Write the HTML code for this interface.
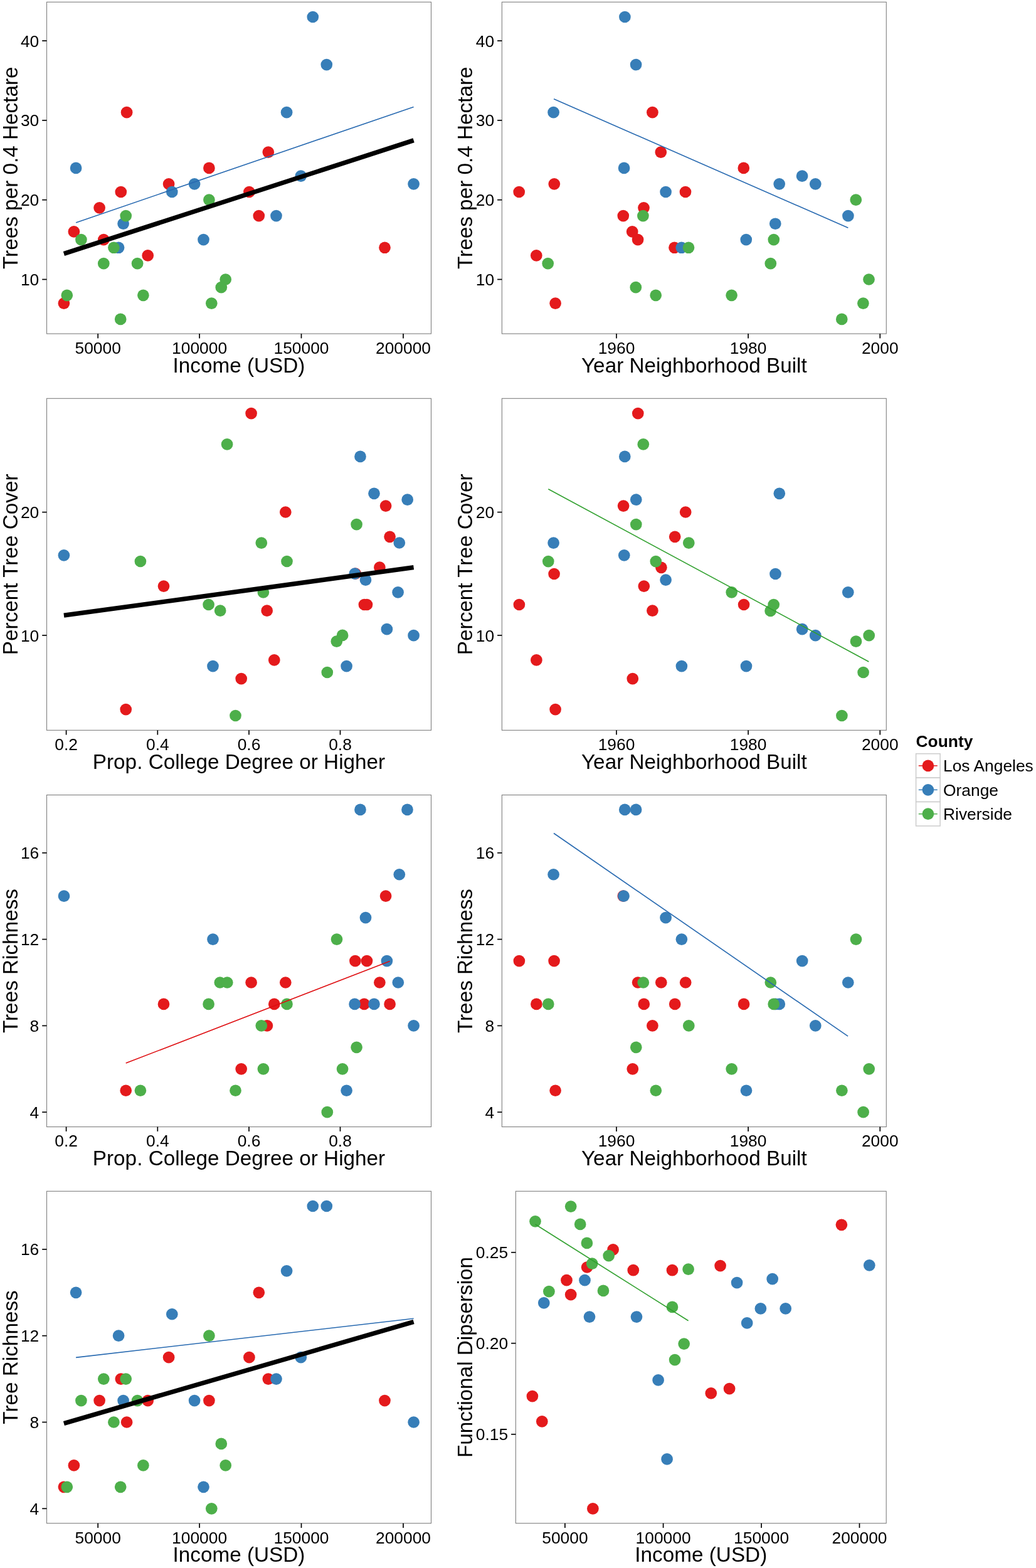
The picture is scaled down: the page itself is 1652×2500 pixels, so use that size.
<!DOCTYPE html>
<html><head><meta charset="utf-8"><title>Figure</title>
<style>
html,body{margin:0;padding:0;background:#fff;overflow:hidden;}
svg{display:block;}
text{font-family:"Liberation Sans",Arial,Helvetica,sans-serif;fill:#000;}
.tk{font-size:26.4px;}
.ti{font-size:33.3px;}
</style></head><body>
<svg width="1652" height="2500" viewBox="0 0 1652 2500">
<rect x="0" y="0" width="1652" height="2500" fill="#fff"/>
<g id="p1">
<clipPath id="c1"><rect x="74.5" y="3.3" width="613" height="528.8"/></clipPath>
<g clip-path="url(#c1)">
<circle cx="202.1" cy="179.19" r="9.35" fill="#E41A1C"/>
<circle cx="333.4" cy="267.96" r="9.35" fill="#E41A1C"/>
<circle cx="269.1" cy="293.32" r="9.35" fill="#E41A1C"/>
<circle cx="192.8" cy="306" r="9.35" fill="#E41A1C"/>
<circle cx="397.4" cy="306" r="9.35" fill="#E41A1C"/>
<circle cx="158.6" cy="331.37" r="9.35" fill="#E41A1C"/>
<circle cx="412.8" cy="344.05" r="9.35" fill="#E41A1C"/>
<circle cx="117.9" cy="369.41" r="9.35" fill="#E41A1C"/>
<circle cx="165.3" cy="382.09" r="9.35" fill="#E41A1C"/>
<circle cx="235.7" cy="407.45" r="9.35" fill="#E41A1C"/>
<circle cx="613.5" cy="394.77" r="9.35" fill="#E41A1C"/>
<circle cx="101.9" cy="483.55" r="9.35" fill="#E41A1C"/>
<circle cx="427.8" cy="242.59" r="9.35" fill="#E41A1C"/>
<circle cx="498.8" cy="27.01" r="9.35" fill="#377EB8"/>
<circle cx="520.8" cy="103.09" r="9.35" fill="#377EB8"/>
<circle cx="457.1" cy="179.19" r="9.35" fill="#377EB8"/>
<circle cx="121.1" cy="267.96" r="9.35" fill="#377EB8"/>
<circle cx="310.1" cy="293.32" r="9.35" fill="#377EB8"/>
<circle cx="659.6" cy="293.32" r="9.35" fill="#377EB8"/>
<circle cx="479.8" cy="280.64" r="9.35" fill="#377EB8"/>
<circle cx="274.3" cy="306" r="9.35" fill="#377EB8"/>
<circle cx="440.5" cy="344.05" r="9.35" fill="#377EB8"/>
<circle cx="196.6" cy="356.73" r="9.35" fill="#377EB8"/>
<circle cx="324.5" cy="382.09" r="9.35" fill="#377EB8"/>
<circle cx="189.1" cy="394.77" r="9.35" fill="#377EB8"/>
<circle cx="333.4" cy="318.68" r="9.35" fill="#4DAF4A"/>
<circle cx="200.7" cy="344.05" r="9.35" fill="#4DAF4A"/>
<circle cx="129.4" cy="382.09" r="9.35" fill="#4DAF4A"/>
<circle cx="181.4" cy="394.77" r="9.35" fill="#4DAF4A"/>
<circle cx="165.3" cy="420.14" r="9.35" fill="#4DAF4A"/>
<circle cx="219.1" cy="420.14" r="9.35" fill="#4DAF4A"/>
<circle cx="359.7" cy="445.5" r="9.35" fill="#4DAF4A"/>
<circle cx="352.8" cy="458.18" r="9.35" fill="#4DAF4A"/>
<circle cx="106.8" cy="470.86" r="9.35" fill="#4DAF4A"/>
<circle cx="228.4" cy="470.86" r="9.35" fill="#4DAF4A"/>
<circle cx="337.3" cy="483.55" r="9.35" fill="#4DAF4A"/>
<circle cx="192.2" cy="508.91" r="9.35" fill="#4DAF4A"/>
<line x1="121.1" y1="355" x2="659.6" y2="170.4" stroke="#2769B0" stroke-width="1.6" stroke-linecap="butt"/>
<line x1="101.9" y1="404.5" x2="659.6" y2="223.8" stroke="#000000" stroke-width="7.3" stroke-linecap="butt"/>
</g>
<rect x="74.5" y="3.3" width="613" height="528.8" fill="none" stroke="#7F7F7F" stroke-width="1.1"/>
<line x1="67.2" y1="445.5" x2="74.5" y2="445.5" stroke="#000" stroke-width="1.7"/>
<text class="tk" x="62.3" y="455" text-anchor="end">10</text>
<line x1="67.2" y1="318.68" x2="74.5" y2="318.68" stroke="#000" stroke-width="1.7"/>
<text class="tk" x="62.3" y="328.18" text-anchor="end">20</text>
<line x1="67.2" y1="191.87" x2="74.5" y2="191.87" stroke="#000" stroke-width="1.7"/>
<text class="tk" x="62.3" y="201.37" text-anchor="end">30</text>
<line x1="67.2" y1="65.05" x2="74.5" y2="65.05" stroke="#000" stroke-width="1.7"/>
<text class="tk" x="62.3" y="74.55" text-anchor="end">40</text>
<line x1="156.2" y1="532.1" x2="156.2" y2="539.4" stroke="#000" stroke-width="1.7"/>
<text class="tk" x="156.2" y="563.9" text-anchor="middle">50000</text>
<line x1="318.1" y1="532.1" x2="318.1" y2="539.4" stroke="#000" stroke-width="1.7"/>
<text class="tk" x="318.1" y="563.9" text-anchor="middle">100000</text>
<line x1="480.5" y1="532.1" x2="480.5" y2="539.4" stroke="#000" stroke-width="1.7"/>
<text class="tk" x="480.5" y="563.9" text-anchor="middle">150000</text>
<line x1="643" y1="532.1" x2="643" y2="539.4" stroke="#000" stroke-width="1.7"/>
<text class="tk" x="643" y="563.9" text-anchor="middle">200000</text>
<text class="ti" x="381" y="593.5" text-anchor="middle">Income (USD)</text>
<text class="ti" x="0" y="0" text-anchor="middle" transform="translate(27.6 267.7) rotate(-90)">Trees per 0.4 Hectare</text>
</g>
<g id="p2">
<clipPath id="c2"><rect x="800.4" y="3.3" width="612.9" height="528.8"/></clipPath>
<g clip-path="url(#c2)">
<circle cx="1040.4" cy="179.19" r="9.35" fill="#E41A1C"/>
<circle cx="1053.8" cy="242.59" r="9.35" fill="#E41A1C"/>
<circle cx="883.8" cy="293.32" r="9.35" fill="#E41A1C"/>
<circle cx="827.7" cy="306" r="9.35" fill="#E41A1C"/>
<circle cx="1093" cy="306" r="9.35" fill="#E41A1C"/>
<circle cx="1026.5" cy="331.37" r="9.35" fill="#E41A1C"/>
<circle cx="993.8" cy="344.05" r="9.35" fill="#E41A1C"/>
<circle cx="1008.2" cy="369.41" r="9.35" fill="#E41A1C"/>
<circle cx="1017.1" cy="382.09" r="9.35" fill="#E41A1C"/>
<circle cx="1075.5" cy="394.77" r="9.35" fill="#E41A1C"/>
<circle cx="855.3" cy="407.45" r="9.35" fill="#E41A1C"/>
<circle cx="885.6" cy="483.55" r="9.35" fill="#E41A1C"/>
<circle cx="1185.8" cy="267.96" r="9.35" fill="#E41A1C"/>
<circle cx="996.4" cy="27.01" r="9.35" fill="#377EB8"/>
<circle cx="1014.1" cy="103.09" r="9.35" fill="#377EB8"/>
<circle cx="882.6" cy="179.19" r="9.35" fill="#377EB8"/>
<circle cx="995.1" cy="267.96" r="9.35" fill="#377EB8"/>
<circle cx="1061.6" cy="306" r="9.35" fill="#377EB8"/>
<circle cx="1086.7" cy="394.77" r="9.35" fill="#377EB8"/>
<circle cx="1279.1" cy="280.64" r="9.35" fill="#377EB8"/>
<circle cx="1242.7" cy="293.32" r="9.35" fill="#377EB8"/>
<circle cx="1300.3" cy="293.32" r="9.35" fill="#377EB8"/>
<circle cx="1352.4" cy="344.05" r="9.35" fill="#377EB8"/>
<circle cx="1236.3" cy="356.73" r="9.35" fill="#377EB8"/>
<circle cx="1189.8" cy="382.09" r="9.35" fill="#377EB8"/>
<circle cx="1025.4" cy="344.05" r="9.35" fill="#4DAF4A"/>
<circle cx="1098" cy="394.77" r="9.35" fill="#4DAF4A"/>
<circle cx="873.7" cy="420.14" r="9.35" fill="#4DAF4A"/>
<circle cx="1013.8" cy="458.18" r="9.35" fill="#4DAF4A"/>
<circle cx="1045.7" cy="470.86" r="9.35" fill="#4DAF4A"/>
<circle cx="1364.8" cy="318.68" r="9.35" fill="#4DAF4A"/>
<circle cx="1233.8" cy="382.09" r="9.35" fill="#4DAF4A"/>
<circle cx="1228.8" cy="420.14" r="9.35" fill="#4DAF4A"/>
<circle cx="1385.5" cy="445.5" r="9.35" fill="#4DAF4A"/>
<circle cx="1166.6" cy="470.86" r="9.35" fill="#4DAF4A"/>
<circle cx="1376.4" cy="483.55" r="9.35" fill="#4DAF4A"/>
<circle cx="1342.3" cy="508.91" r="9.35" fill="#4DAF4A"/>
<line x1="883.1" y1="157.8" x2="1352.4" y2="363.3" stroke="#2769B0" stroke-width="1.6" stroke-linecap="butt"/>
</g>
<rect x="800.4" y="3.3" width="612.9" height="528.8" fill="none" stroke="#7F7F7F" stroke-width="1.1"/>
<line x1="793.1" y1="445.5" x2="800.4" y2="445.5" stroke="#000" stroke-width="1.7"/>
<text class="tk" x="788.2" y="455" text-anchor="end">10</text>
<line x1="793.1" y1="318.68" x2="800.4" y2="318.68" stroke="#000" stroke-width="1.7"/>
<text class="tk" x="788.2" y="328.18" text-anchor="end">20</text>
<line x1="793.1" y1="191.87" x2="800.4" y2="191.87" stroke="#000" stroke-width="1.7"/>
<text class="tk" x="788.2" y="201.37" text-anchor="end">30</text>
<line x1="793.1" y1="65.05" x2="800.4" y2="65.05" stroke="#000" stroke-width="1.7"/>
<text class="tk" x="788.2" y="74.55" text-anchor="end">40</text>
<line x1="983" y1="532.1" x2="983" y2="539.4" stroke="#000" stroke-width="1.7"/>
<text class="tk" x="983" y="563.9" text-anchor="middle">1960</text>
<line x1="1193.1" y1="532.1" x2="1193.1" y2="539.4" stroke="#000" stroke-width="1.7"/>
<text class="tk" x="1193.1" y="563.9" text-anchor="middle">1980</text>
<line x1="1403.3" y1="532.1" x2="1403.3" y2="539.4" stroke="#000" stroke-width="1.7"/>
<text class="tk" x="1403.3" y="563.9" text-anchor="middle">2000</text>
<text class="ti" x="1106.85" y="593.5" text-anchor="middle">Year Neighborhood Built</text>
<text class="ti" x="0" y="0" text-anchor="middle" transform="translate(753.2 267.7) rotate(-90)">Trees per 0.4 Hectare</text>
</g>
<g id="p3">
<clipPath id="c3"><rect x="74.5" y="635.3" width="613" height="529"/></clipPath>
<g clip-path="url(#c3)">
<circle cx="400.6" cy="659.1" r="9.35" fill="#E41A1C"/>
<circle cx="615.1" cy="806.6" r="9.35" fill="#E41A1C"/>
<circle cx="455.3" cy="816.5" r="9.35" fill="#E41A1C"/>
<circle cx="621.6" cy="855.8" r="9.35" fill="#E41A1C"/>
<circle cx="605.4" cy="904.7" r="9.35" fill="#E41A1C"/>
<circle cx="566.8" cy="914.6" r="9.35" fill="#E41A1C"/>
<circle cx="580.9" cy="964" r="9.35" fill="#E41A1C"/>
<circle cx="585" cy="964" r="9.35" fill="#E41A1C"/>
<circle cx="425.7" cy="973.7" r="9.35" fill="#E41A1C"/>
<circle cx="437.3" cy="1052.4" r="9.35" fill="#E41A1C"/>
<circle cx="384.7" cy="1082.1" r="9.35" fill="#E41A1C"/>
<circle cx="261" cy="934.6" r="9.35" fill="#E41A1C"/>
<circle cx="200.7" cy="1131.1" r="9.35" fill="#E41A1C"/>
<circle cx="574.5" cy="727.9" r="9.35" fill="#377EB8"/>
<circle cx="596.5" cy="786.8" r="9.35" fill="#377EB8"/>
<circle cx="649.7" cy="796.7" r="9.35" fill="#377EB8"/>
<circle cx="636.8" cy="865.5" r="9.35" fill="#377EB8"/>
<circle cx="101.9" cy="885.3" r="9.35" fill="#377EB8"/>
<circle cx="565.8" cy="914.6" r="9.35" fill="#377EB8"/>
<circle cx="583" cy="924.7" r="9.35" fill="#377EB8"/>
<circle cx="634.6" cy="944.3" r="9.35" fill="#377EB8"/>
<circle cx="616.9" cy="1003.2" r="9.35" fill="#377EB8"/>
<circle cx="659.6" cy="1013.1" r="9.35" fill="#377EB8"/>
<circle cx="552.6" cy="1062.1" r="9.35" fill="#377EB8"/>
<circle cx="339.5" cy="1062.1" r="9.35" fill="#377EB8"/>
<circle cx="362.1" cy="708.3" r="9.35" fill="#4DAF4A"/>
<circle cx="568.6" cy="836.1" r="9.35" fill="#4DAF4A"/>
<circle cx="416.8" cy="865.7" r="9.35" fill="#4DAF4A"/>
<circle cx="223.9" cy="895" r="9.35" fill="#4DAF4A"/>
<circle cx="457.5" cy="895" r="9.35" fill="#4DAF4A"/>
<circle cx="419.9" cy="944.5" r="9.35" fill="#4DAF4A"/>
<circle cx="332.6" cy="964" r="9.35" fill="#4DAF4A"/>
<circle cx="351.2" cy="973.7" r="9.35" fill="#4DAF4A"/>
<circle cx="546.1" cy="1012.9" r="9.35" fill="#4DAF4A"/>
<circle cx="536.8" cy="1022.7" r="9.35" fill="#4DAF4A"/>
<circle cx="521.8" cy="1072" r="9.35" fill="#4DAF4A"/>
<circle cx="375.5" cy="1141" r="9.35" fill="#4DAF4A"/>
<line x1="101.9" y1="981.2" x2="659.6" y2="904.7" stroke="#000000" stroke-width="7.3" stroke-linecap="butt"/>
</g>
<rect x="74.5" y="635.3" width="613" height="529" fill="none" stroke="#7F7F7F" stroke-width="1.1"/>
<line x1="67.2" y1="1013" x2="74.5" y2="1013" stroke="#000" stroke-width="1.7"/>
<text class="tk" x="62.3" y="1022.5" text-anchor="end">10</text>
<line x1="67.2" y1="816.6" x2="74.5" y2="816.6" stroke="#000" stroke-width="1.7"/>
<text class="tk" x="62.3" y="826.1" text-anchor="end">20</text>
<line x1="105.6" y1="1164.3" x2="105.6" y2="1171.6" stroke="#000" stroke-width="1.7"/>
<text class="tk" x="105.6" y="1196.1" text-anchor="middle">0.2</text>
<line x1="251.3" y1="1164.3" x2="251.3" y2="1171.6" stroke="#000" stroke-width="1.7"/>
<text class="tk" x="251.3" y="1196.1" text-anchor="middle">0.4</text>
<line x1="397" y1="1164.3" x2="397" y2="1171.6" stroke="#000" stroke-width="1.7"/>
<text class="tk" x="397" y="1196.1" text-anchor="middle">0.6</text>
<line x1="542.5" y1="1164.3" x2="542.5" y2="1171.6" stroke="#000" stroke-width="1.7"/>
<text class="tk" x="542.5" y="1196.1" text-anchor="middle">0.8</text>
<text class="ti" x="381" y="1225.7" text-anchor="middle">Prop. College Degree or Higher</text>
<text class="ti" x="0" y="0" text-anchor="middle" transform="translate(27.6 899.8) rotate(-90)">Percent Tree Cover</text>
</g>
<g id="p4">
<clipPath id="c4"><rect x="800.4" y="635.3" width="612.9" height="529"/></clipPath>
<g clip-path="url(#c4)">
<circle cx="1017.3" cy="659.1" r="9.35" fill="#E41A1C"/>
<circle cx="994.1" cy="806.6" r="9.35" fill="#E41A1C"/>
<circle cx="1093.2" cy="816.5" r="9.35" fill="#E41A1C"/>
<circle cx="1076.2" cy="855.8" r="9.35" fill="#E41A1C"/>
<circle cx="1054.4" cy="904.8" r="9.35" fill="#E41A1C"/>
<circle cx="883.6" cy="915" r="9.35" fill="#E41A1C"/>
<circle cx="1026.8" cy="934.6" r="9.35" fill="#E41A1C"/>
<circle cx="827.9" cy="964" r="9.35" fill="#E41A1C"/>
<circle cx="1040.4" cy="973.7" r="9.35" fill="#E41A1C"/>
<circle cx="855.4" cy="1052.4" r="9.35" fill="#E41A1C"/>
<circle cx="1008.8" cy="1082.1" r="9.35" fill="#E41A1C"/>
<circle cx="885.6" cy="1131.1" r="9.35" fill="#E41A1C"/>
<circle cx="1186.1" cy="964" r="9.35" fill="#E41A1C"/>
<circle cx="996.3" cy="727.9" r="9.35" fill="#377EB8"/>
<circle cx="1014.3" cy="796.7" r="9.35" fill="#377EB8"/>
<circle cx="882.6" cy="865.7" r="9.35" fill="#377EB8"/>
<circle cx="995.3" cy="885.3" r="9.35" fill="#377EB8"/>
<circle cx="1061.6" cy="924.7" r="9.35" fill="#377EB8"/>
<circle cx="1086.9" cy="1062.1" r="9.35" fill="#377EB8"/>
<circle cx="1242.8" cy="786.8" r="9.35" fill="#377EB8"/>
<circle cx="1236.5" cy="915" r="9.35" fill="#377EB8"/>
<circle cx="1352.3" cy="944.3" r="9.35" fill="#377EB8"/>
<circle cx="1279.2" cy="1003.2" r="9.35" fill="#377EB8"/>
<circle cx="1300.3" cy="1013.1" r="9.35" fill="#377EB8"/>
<circle cx="1190" cy="1062.1" r="9.35" fill="#377EB8"/>
<circle cx="1025.8" cy="708.3" r="9.35" fill="#4DAF4A"/>
<circle cx="1014.3" cy="836.1" r="9.35" fill="#4DAF4A"/>
<circle cx="1098.3" cy="865.7" r="9.35" fill="#4DAF4A"/>
<circle cx="874.3" cy="895.1" r="9.35" fill="#4DAF4A"/>
<circle cx="1045.8" cy="895.1" r="9.35" fill="#4DAF4A"/>
<circle cx="1166.7" cy="944.3" r="9.35" fill="#4DAF4A"/>
<circle cx="1233.7" cy="964" r="9.35" fill="#4DAF4A"/>
<circle cx="1228.6" cy="973.9" r="9.35" fill="#4DAF4A"/>
<circle cx="1385.7" cy="1013.1" r="9.35" fill="#4DAF4A"/>
<circle cx="1365" cy="1022.7" r="9.35" fill="#4DAF4A"/>
<circle cx="1376.6" cy="1072" r="9.35" fill="#4DAF4A"/>
<circle cx="1342.4" cy="1141" r="9.35" fill="#4DAF4A"/>
<line x1="874.3" y1="779.7" x2="1385.3" y2="1055" stroke="#30A02E" stroke-width="1.6" stroke-linecap="butt"/>
</g>
<rect x="800.4" y="635.3" width="612.9" height="529" fill="none" stroke="#7F7F7F" stroke-width="1.1"/>
<line x1="793.1" y1="1013" x2="800.4" y2="1013" stroke="#000" stroke-width="1.7"/>
<text class="tk" x="788.2" y="1022.5" text-anchor="end">10</text>
<line x1="793.1" y1="816.6" x2="800.4" y2="816.6" stroke="#000" stroke-width="1.7"/>
<text class="tk" x="788.2" y="826.1" text-anchor="end">20</text>
<line x1="983" y1="1164.3" x2="983" y2="1171.6" stroke="#000" stroke-width="1.7"/>
<text class="tk" x="983" y="1196.1" text-anchor="middle">1960</text>
<line x1="1193.1" y1="1164.3" x2="1193.1" y2="1171.6" stroke="#000" stroke-width="1.7"/>
<text class="tk" x="1193.1" y="1196.1" text-anchor="middle">1980</text>
<line x1="1403.3" y1="1164.3" x2="1403.3" y2="1171.6" stroke="#000" stroke-width="1.7"/>
<text class="tk" x="1403.3" y="1196.1" text-anchor="middle">2000</text>
<text class="ti" x="1106.85" y="1225.7" text-anchor="middle">Year Neighborhood Built</text>
<text class="ti" x="0" y="0" text-anchor="middle" transform="translate(753.2 899.8) rotate(-90)">Percent Tree Cover</text>
</g>
<g id="p5">
<clipPath id="c5"><rect x="74.5" y="1267.5" width="613" height="529.1"/></clipPath>
<g clip-path="url(#c5)">
<circle cx="615.1" cy="1428.7" r="9.35" fill="#E41A1C"/>
<circle cx="566.4" cy="1532.05" r="9.35" fill="#E41A1C"/>
<circle cx="585" cy="1532.05" r="9.35" fill="#E41A1C"/>
<circle cx="400.6" cy="1566.5" r="9.35" fill="#E41A1C"/>
<circle cx="455.3" cy="1566.5" r="9.35" fill="#E41A1C"/>
<circle cx="605.4" cy="1566.5" r="9.35" fill="#E41A1C"/>
<circle cx="437.3" cy="1600.95" r="9.35" fill="#E41A1C"/>
<circle cx="580.7" cy="1600.95" r="9.35" fill="#E41A1C"/>
<circle cx="621.6" cy="1600.95" r="9.35" fill="#E41A1C"/>
<circle cx="425.9" cy="1635.4" r="9.35" fill="#E41A1C"/>
<circle cx="384.7" cy="1704.3" r="9.35" fill="#E41A1C"/>
<circle cx="261" cy="1600.95" r="9.35" fill="#E41A1C"/>
<circle cx="200.7" cy="1738.75" r="9.35" fill="#E41A1C"/>
<circle cx="574.5" cy="1290.9" r="9.35" fill="#377EB8"/>
<circle cx="649.5" cy="1290.9" r="9.35" fill="#377EB8"/>
<circle cx="636.8" cy="1394.25" r="9.35" fill="#377EB8"/>
<circle cx="583" cy="1463.15" r="9.35" fill="#377EB8"/>
<circle cx="616.9" cy="1532.05" r="9.35" fill="#377EB8"/>
<circle cx="634.8" cy="1566.5" r="9.35" fill="#377EB8"/>
<circle cx="565.6" cy="1600.95" r="9.35" fill="#377EB8"/>
<circle cx="596.5" cy="1600.95" r="9.35" fill="#377EB8"/>
<circle cx="659.6" cy="1635.4" r="9.35" fill="#377EB8"/>
<circle cx="552.6" cy="1738.75" r="9.35" fill="#377EB8"/>
<circle cx="102" cy="1428.7" r="9.35" fill="#377EB8"/>
<circle cx="339.5" cy="1497.6" r="9.35" fill="#377EB8"/>
<circle cx="537" cy="1497.6" r="9.35" fill="#4DAF4A"/>
<circle cx="457.5" cy="1600.95" r="9.35" fill="#4DAF4A"/>
<circle cx="416.8" cy="1635.4" r="9.35" fill="#4DAF4A"/>
<circle cx="568.6" cy="1669.85" r="9.35" fill="#4DAF4A"/>
<circle cx="419.9" cy="1704.3" r="9.35" fill="#4DAF4A"/>
<circle cx="546.1" cy="1704.3" r="9.35" fill="#4DAF4A"/>
<circle cx="375.5" cy="1738.75" r="9.35" fill="#4DAF4A"/>
<circle cx="521.8" cy="1773.2" r="9.35" fill="#4DAF4A"/>
<circle cx="350.8" cy="1566.5" r="9.35" fill="#4DAF4A"/>
<circle cx="362.3" cy="1566.5" r="9.35" fill="#4DAF4A"/>
<circle cx="332.6" cy="1600.95" r="9.35" fill="#4DAF4A"/>
<circle cx="223.9" cy="1738.75" r="9.35" fill="#4DAF4A"/>
<line x1="200.7" y1="1695.1" x2="621.6" y2="1532.6" stroke="#DE0D10" stroke-width="1.6" stroke-linecap="butt"/>
</g>
<rect x="74.5" y="1267.5" width="613" height="529.1" fill="none" stroke="#7F7F7F" stroke-width="1.1"/>
<line x1="67.2" y1="1773.2" x2="74.5" y2="1773.2" stroke="#000" stroke-width="1.7"/>
<text class="tk" x="62.3" y="1782.7" text-anchor="end">4</text>
<line x1="67.2" y1="1635.4" x2="74.5" y2="1635.4" stroke="#000" stroke-width="1.7"/>
<text class="tk" x="62.3" y="1644.9" text-anchor="end">8</text>
<line x1="67.2" y1="1497.6" x2="74.5" y2="1497.6" stroke="#000" stroke-width="1.7"/>
<text class="tk" x="62.3" y="1507.1" text-anchor="end">12</text>
<line x1="67.2" y1="1359.8" x2="74.5" y2="1359.8" stroke="#000" stroke-width="1.7"/>
<text class="tk" x="62.3" y="1369.3" text-anchor="end">16</text>
<line x1="105.6" y1="1796.6" x2="105.6" y2="1803.9" stroke="#000" stroke-width="1.7"/>
<text class="tk" x="105.6" y="1828.4" text-anchor="middle">0.2</text>
<line x1="251.3" y1="1796.6" x2="251.3" y2="1803.9" stroke="#000" stroke-width="1.7"/>
<text class="tk" x="251.3" y="1828.4" text-anchor="middle">0.4</text>
<line x1="397" y1="1796.6" x2="397" y2="1803.9" stroke="#000" stroke-width="1.7"/>
<text class="tk" x="397" y="1828.4" text-anchor="middle">0.6</text>
<line x1="542.5" y1="1796.6" x2="542.5" y2="1803.9" stroke="#000" stroke-width="1.7"/>
<text class="tk" x="542.5" y="1828.4" text-anchor="middle">0.8</text>
<text class="ti" x="381" y="1858" text-anchor="middle">Prop. College Degree or Higher</text>
<text class="ti" x="0" y="0" text-anchor="middle" transform="translate(27.6 1532.05) rotate(-90)">Trees Richness</text>
</g>
<g id="p6">
<clipPath id="c6"><rect x="800.4" y="1267.5" width="612.9" height="529.1"/></clipPath>
<g clip-path="url(#c6)">
<circle cx="827.9" cy="1532.05" r="9.35" fill="#E41A1C"/>
<circle cx="883.6" cy="1532.05" r="9.35" fill="#E41A1C"/>
<circle cx="1017.1" cy="1566.5" r="9.35" fill="#E41A1C"/>
<circle cx="1054.3" cy="1566.5" r="9.35" fill="#E41A1C"/>
<circle cx="1093.2" cy="1566.5" r="9.35" fill="#E41A1C"/>
<circle cx="855.4" cy="1600.95" r="9.35" fill="#E41A1C"/>
<circle cx="1026.8" cy="1600.95" r="9.35" fill="#E41A1C"/>
<circle cx="1076.2" cy="1600.95" r="9.35" fill="#E41A1C"/>
<circle cx="1040.4" cy="1635.4" r="9.35" fill="#E41A1C"/>
<circle cx="1008.8" cy="1704.3" r="9.35" fill="#E41A1C"/>
<circle cx="885.6" cy="1738.75" r="9.35" fill="#E41A1C"/>
<circle cx="1186.1" cy="1600.95" r="9.35" fill="#E41A1C"/>
<circle cx="993.8" cy="1428.7" r="9.35" fill="#E41A1C"/>
<circle cx="996.3" cy="1290.9" r="9.35" fill="#377EB8"/>
<circle cx="1014.1" cy="1290.9" r="9.35" fill="#377EB8"/>
<circle cx="882.6" cy="1394.25" r="9.35" fill="#377EB8"/>
<circle cx="994.5" cy="1428.7" r="9.35" fill="#377EB8"/>
<circle cx="1061.6" cy="1463.15" r="9.35" fill="#377EB8"/>
<circle cx="1086.9" cy="1497.6" r="9.35" fill="#377EB8"/>
<circle cx="1279.2" cy="1532.05" r="9.35" fill="#377EB8"/>
<circle cx="1352.3" cy="1566.5" r="9.35" fill="#377EB8"/>
<circle cx="1236.5" cy="1600.95" r="9.35" fill="#377EB8"/>
<circle cx="1242.8" cy="1600.95" r="9.35" fill="#377EB8"/>
<circle cx="1300.3" cy="1635.4" r="9.35" fill="#377EB8"/>
<circle cx="1190" cy="1738.75" r="9.35" fill="#377EB8"/>
<circle cx="1025.8" cy="1566.5" r="9.35" fill="#4DAF4A"/>
<circle cx="874.3" cy="1600.95" r="9.35" fill="#4DAF4A"/>
<circle cx="1098.3" cy="1635.4" r="9.35" fill="#4DAF4A"/>
<circle cx="1014.3" cy="1669.85" r="9.35" fill="#4DAF4A"/>
<circle cx="1045.8" cy="1738.75" r="9.35" fill="#4DAF4A"/>
<circle cx="1365" cy="1497.6" r="9.35" fill="#4DAF4A"/>
<circle cx="1228.8" cy="1566.5" r="9.35" fill="#4DAF4A"/>
<circle cx="1233.7" cy="1600.95" r="9.35" fill="#4DAF4A"/>
<circle cx="1166.7" cy="1704.3" r="9.35" fill="#4DAF4A"/>
<circle cx="1385.7" cy="1704.3" r="9.35" fill="#4DAF4A"/>
<circle cx="1342.4" cy="1738.75" r="9.35" fill="#4DAF4A"/>
<circle cx="1376.6" cy="1773.2" r="9.35" fill="#4DAF4A"/>
<line x1="883" y1="1328.5" x2="1352.1" y2="1652.2" stroke="#2769B0" stroke-width="1.6" stroke-linecap="butt"/>
</g>
<rect x="800.4" y="1267.5" width="612.9" height="529.1" fill="none" stroke="#7F7F7F" stroke-width="1.1"/>
<line x1="793.1" y1="1773.2" x2="800.4" y2="1773.2" stroke="#000" stroke-width="1.7"/>
<text class="tk" x="788.2" y="1782.7" text-anchor="end">4</text>
<line x1="793.1" y1="1635.4" x2="800.4" y2="1635.4" stroke="#000" stroke-width="1.7"/>
<text class="tk" x="788.2" y="1644.9" text-anchor="end">8</text>
<line x1="793.1" y1="1497.6" x2="800.4" y2="1497.6" stroke="#000" stroke-width="1.7"/>
<text class="tk" x="788.2" y="1507.1" text-anchor="end">12</text>
<line x1="793.1" y1="1359.8" x2="800.4" y2="1359.8" stroke="#000" stroke-width="1.7"/>
<text class="tk" x="788.2" y="1369.3" text-anchor="end">16</text>
<line x1="983" y1="1796.6" x2="983" y2="1803.9" stroke="#000" stroke-width="1.7"/>
<text class="tk" x="983" y="1828.4" text-anchor="middle">1960</text>
<line x1="1193.1" y1="1796.6" x2="1193.1" y2="1803.9" stroke="#000" stroke-width="1.7"/>
<text class="tk" x="1193.1" y="1828.4" text-anchor="middle">1980</text>
<line x1="1403.3" y1="1796.6" x2="1403.3" y2="1803.9" stroke="#000" stroke-width="1.7"/>
<text class="tk" x="1403.3" y="1828.4" text-anchor="middle">2000</text>
<text class="ti" x="1106.85" y="1858" text-anchor="middle">Year Neighborhood Built</text>
<text class="ti" x="0" y="0" text-anchor="middle" transform="translate(753.2 1532.05) rotate(-90)">Trees Richness</text>
</g>
<g id="p7">
<clipPath id="c7"><rect x="74.5" y="1899.3" width="613" height="529.4"/></clipPath>
<g clip-path="url(#c7)">
<circle cx="269.1" cy="2164.15" r="9.35" fill="#E41A1C"/>
<circle cx="192.8" cy="2198.6" r="9.35" fill="#E41A1C"/>
<circle cx="158.6" cy="2233.05" r="9.35" fill="#E41A1C"/>
<circle cx="235.7" cy="2233.05" r="9.35" fill="#E41A1C"/>
<circle cx="333.4" cy="2233.05" r="9.35" fill="#E41A1C"/>
<circle cx="202.1" cy="2267.5" r="9.35" fill="#E41A1C"/>
<circle cx="117.9" cy="2336.4" r="9.35" fill="#E41A1C"/>
<circle cx="101.9" cy="2370.85" r="9.35" fill="#E41A1C"/>
<circle cx="412.8" cy="2060.8" r="9.35" fill="#E41A1C"/>
<circle cx="397.4" cy="2164.15" r="9.35" fill="#E41A1C"/>
<circle cx="427.8" cy="2198.6" r="9.35" fill="#E41A1C"/>
<circle cx="613.5" cy="2233.05" r="9.35" fill="#E41A1C"/>
<circle cx="121.1" cy="2060.8" r="9.35" fill="#377EB8"/>
<circle cx="274.3" cy="2095.25" r="9.35" fill="#377EB8"/>
<circle cx="189.1" cy="2129.7" r="9.35" fill="#377EB8"/>
<circle cx="196.6" cy="2233.05" r="9.35" fill="#377EB8"/>
<circle cx="310.1" cy="2233.05" r="9.35" fill="#377EB8"/>
<circle cx="324.5" cy="2370.85" r="9.35" fill="#377EB8"/>
<circle cx="498.8" cy="1923" r="9.35" fill="#377EB8"/>
<circle cx="520.8" cy="1923" r="9.35" fill="#377EB8"/>
<circle cx="457.1" cy="2026.35" r="9.35" fill="#377EB8"/>
<circle cx="479.8" cy="2164.15" r="9.35" fill="#377EB8"/>
<circle cx="440.5" cy="2198.6" r="9.35" fill="#377EB8"/>
<circle cx="659.6" cy="2267.5" r="9.35" fill="#377EB8"/>
<circle cx="333.4" cy="2129.7" r="9.35" fill="#4DAF4A"/>
<circle cx="165.3" cy="2198.6" r="9.35" fill="#4DAF4A"/>
<circle cx="200.7" cy="2198.6" r="9.35" fill="#4DAF4A"/>
<circle cx="129.4" cy="2233.05" r="9.35" fill="#4DAF4A"/>
<circle cx="219.1" cy="2233.05" r="9.35" fill="#4DAF4A"/>
<circle cx="181.4" cy="2267.5" r="9.35" fill="#4DAF4A"/>
<circle cx="352.8" cy="2301.95" r="9.35" fill="#4DAF4A"/>
<circle cx="228.4" cy="2336.4" r="9.35" fill="#4DAF4A"/>
<circle cx="359.7" cy="2336.4" r="9.35" fill="#4DAF4A"/>
<circle cx="106.8" cy="2370.85" r="9.35" fill="#4DAF4A"/>
<circle cx="192.2" cy="2370.85" r="9.35" fill="#4DAF4A"/>
<circle cx="337.3" cy="2405.3" r="9.35" fill="#4DAF4A"/>
<line x1="121.1" y1="2164.4" x2="659.6" y2="2102.2" stroke="#2769B0" stroke-width="1.6" stroke-linecap="butt"/>
<line x1="101.9" y1="2269.4" x2="659.6" y2="2107.5" stroke="#000000" stroke-width="7.3" stroke-linecap="butt"/>
</g>
<rect x="74.5" y="1899.3" width="613" height="529.4" fill="none" stroke="#7F7F7F" stroke-width="1.1"/>
<line x1="67.2" y1="2405.3" x2="74.5" y2="2405.3" stroke="#000" stroke-width="1.7"/>
<text class="tk" x="62.3" y="2414.8" text-anchor="end">4</text>
<line x1="67.2" y1="2267.5" x2="74.5" y2="2267.5" stroke="#000" stroke-width="1.7"/>
<text class="tk" x="62.3" y="2277" text-anchor="end">8</text>
<line x1="67.2" y1="2129.7" x2="74.5" y2="2129.7" stroke="#000" stroke-width="1.7"/>
<text class="tk" x="62.3" y="2139.2" text-anchor="end">12</text>
<line x1="67.2" y1="1991.9" x2="74.5" y2="1991.9" stroke="#000" stroke-width="1.7"/>
<text class="tk" x="62.3" y="2001.4" text-anchor="end">16</text>
<line x1="156.2" y1="2428.7" x2="156.2" y2="2436" stroke="#000" stroke-width="1.7"/>
<text class="tk" x="156.2" y="2460.5" text-anchor="middle">50000</text>
<line x1="318.1" y1="2428.7" x2="318.1" y2="2436" stroke="#000" stroke-width="1.7"/>
<text class="tk" x="318.1" y="2460.5" text-anchor="middle">100000</text>
<line x1="480.5" y1="2428.7" x2="480.5" y2="2436" stroke="#000" stroke-width="1.7"/>
<text class="tk" x="480.5" y="2460.5" text-anchor="middle">150000</text>
<line x1="643" y1="2428.7" x2="643" y2="2436" stroke="#000" stroke-width="1.7"/>
<text class="tk" x="643" y="2460.5" text-anchor="middle">200000</text>
<text class="ti" x="381" y="2490.1" text-anchor="middle">Income (USD)</text>
<text class="ti" x="0" y="0" text-anchor="middle" transform="translate(27.6 2164) rotate(-90)">Tree Richness</text>
</g>
<g id="p8">
<clipPath id="c8"><rect x="822.4" y="1899.3" width="590.8" height="529.4"/></clipPath>
<g clip-path="url(#c8)">
<circle cx="977.6" cy="1992.4" r="9.35" fill="#E41A1C"/>
<circle cx="936.1" cy="2020.5" r="9.35" fill="#E41A1C"/>
<circle cx="1009.8" cy="2025.2" r="9.35" fill="#E41A1C"/>
<circle cx="903.5" cy="2041.2" r="9.35" fill="#E41A1C"/>
<circle cx="910.2" cy="2064.2" r="9.35" fill="#E41A1C"/>
<circle cx="1341.9" cy="1952.8" r="9.35" fill="#E41A1C"/>
<circle cx="1148.6" cy="2018.1" r="9.35" fill="#E41A1C"/>
<circle cx="1072" cy="2025.2" r="9.35" fill="#E41A1C"/>
<circle cx="848.9" cy="2226.1" r="9.35" fill="#E41A1C"/>
<circle cx="864.3" cy="2266.4" r="9.35" fill="#E41A1C"/>
<circle cx="945.4" cy="2405.4" r="9.35" fill="#E41A1C"/>
<circle cx="1133.8" cy="2221.3" r="9.35" fill="#E41A1C"/>
<circle cx="1163.1" cy="2214.2" r="9.35" fill="#E41A1C"/>
<circle cx="932.5" cy="2041.2" r="9.35" fill="#377EB8"/>
<circle cx="867.3" cy="2077.4" r="9.35" fill="#377EB8"/>
<circle cx="940" cy="2099.6" r="9.35" fill="#377EB8"/>
<circle cx="1015" cy="2099.6" r="9.35" fill="#377EB8"/>
<circle cx="1386.3" cy="2017.3" r="9.35" fill="#377EB8"/>
<circle cx="1175.1" cy="2045.1" r="9.35" fill="#377EB8"/>
<circle cx="1231.7" cy="2039.2" r="9.35" fill="#377EB8"/>
<circle cx="1212.9" cy="2086.4" r="9.35" fill="#377EB8"/>
<circle cx="1252.7" cy="2086.4" r="9.35" fill="#377EB8"/>
<circle cx="1191.2" cy="2109.4" r="9.35" fill="#377EB8"/>
<circle cx="1049.6" cy="2200.4" r="9.35" fill="#377EB8"/>
<circle cx="1063.6" cy="2326.4" r="9.35" fill="#377EB8"/>
<circle cx="910.2" cy="1923.6" r="9.35" fill="#4DAF4A"/>
<circle cx="853.5" cy="1947.3" r="9.35" fill="#4DAF4A"/>
<circle cx="925.2" cy="1951.9" r="9.35" fill="#4DAF4A"/>
<circle cx="935.9" cy="1981.9" r="9.35" fill="#4DAF4A"/>
<circle cx="970.7" cy="2002.1" r="9.35" fill="#4DAF4A"/>
<circle cx="944.2" cy="2014.6" r="9.35" fill="#4DAF4A"/>
<circle cx="875.4" cy="2059.2" r="9.35" fill="#4DAF4A"/>
<circle cx="962" cy="2057.9" r="9.35" fill="#4DAF4A"/>
<circle cx="1097.6" cy="2023.7" r="9.35" fill="#4DAF4A"/>
<circle cx="1072" cy="2083.9" r="9.35" fill="#4DAF4A"/>
<circle cx="1090.7" cy="2142.6" r="9.35" fill="#4DAF4A"/>
<circle cx="1076.1" cy="2168.1" r="9.35" fill="#4DAF4A"/>
<line x1="853.5" y1="1952" x2="1097.6" y2="2105.8" stroke="#30A02E" stroke-width="1.6" stroke-linecap="butt"/>
</g>
<rect x="822.4" y="1899.3" width="590.8" height="529.4" fill="none" stroke="#7F7F7F" stroke-width="1.1"/>
<line x1="815.1" y1="2286.8" x2="822.4" y2="2286.8" stroke="#000" stroke-width="1.7"/>
<text class="tk" x="810.2" y="2296.3" text-anchor="end">0.15</text>
<line x1="815.1" y1="2141.7" x2="822.4" y2="2141.7" stroke="#000" stroke-width="1.7"/>
<text class="tk" x="810.2" y="2151.2" text-anchor="end">0.20</text>
<line x1="815.1" y1="1996.8" x2="822.4" y2="1996.8" stroke="#000" stroke-width="1.7"/>
<text class="tk" x="810.2" y="2006.3" text-anchor="end">0.25</text>
<line x1="900.9" y1="2428.7" x2="900.9" y2="2436" stroke="#000" stroke-width="1.7"/>
<text class="tk" x="900.9" y="2460.5" text-anchor="middle">50000</text>
<line x1="1057.6" y1="2428.7" x2="1057.6" y2="2436" stroke="#000" stroke-width="1.7"/>
<text class="tk" x="1057.6" y="2460.5" text-anchor="middle">100000</text>
<line x1="1214.1" y1="2428.7" x2="1214.1" y2="2436" stroke="#000" stroke-width="1.7"/>
<text class="tk" x="1214.1" y="2460.5" text-anchor="middle">150000</text>
<line x1="1370.5" y1="2428.7" x2="1370.5" y2="2436" stroke="#000" stroke-width="1.7"/>
<text class="tk" x="1370.5" y="2460.5" text-anchor="middle">200000</text>
<text class="ti" x="1117.8" y="2490.1" text-anchor="middle">Income (USD)</text>
<text class="ti" x="0" y="0" text-anchor="middle" transform="translate(753.2 2164) rotate(-90)">Functional Dipsersion</text>
</g>
<g id="legend">
<text x="1460.5" y="1190.9" style="font-size:26.4px;font-weight:bold">County</text>
<rect x="1460.6" y="1201.7" width="38.5" height="38.4" fill="#fff" stroke="#CCCCCC" stroke-width="1.5"/>
<line x1="1464.8" y1="1220.9" x2="1494.8" y2="1220.9" stroke="#E41A1C" stroke-width="1.5"/>
<circle cx="1479.9" cy="1220.9" r="9.35" fill="#E41A1C"/>
<text class="tk" x="1504" y="1230.4">Los Angeles</text>
<rect x="1460.6" y="1240.1" width="38.5" height="38.4" fill="#fff" stroke="#CCCCCC" stroke-width="1.5"/>
<line x1="1464.8" y1="1259.3" x2="1494.8" y2="1259.3" stroke="#377EB8" stroke-width="1.5"/>
<circle cx="1479.9" cy="1259.3" r="9.35" fill="#377EB8"/>
<text class="tk" x="1504" y="1268.8">Orange</text>
<rect x="1460.6" y="1278.5" width="38.5" height="38.4" fill="#fff" stroke="#CCCCCC" stroke-width="1.5"/>
<line x1="1464.8" y1="1297.7" x2="1494.8" y2="1297.7" stroke="#4DAF4A" stroke-width="1.5"/>
<circle cx="1479.9" cy="1297.7" r="9.35" fill="#4DAF4A"/>
<text class="tk" x="1504" y="1307.2">Riverside</text>
</g>
</svg>
</body></html>
